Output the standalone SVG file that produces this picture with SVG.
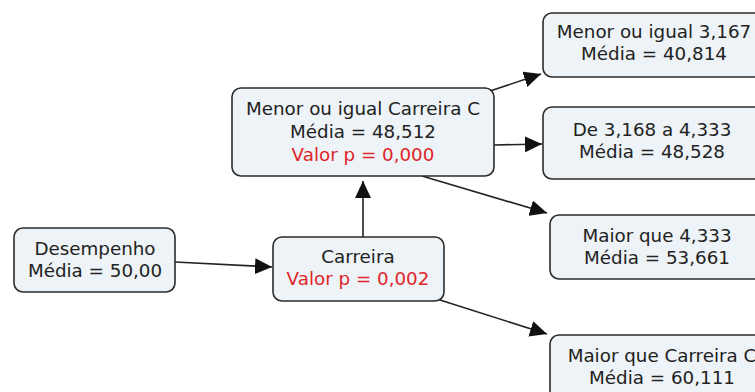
<svg xmlns="http://www.w3.org/2000/svg" width="755" height="392" viewBox="0 0 755 392">
<style>
.box{fill:#edf3f6;stroke:#2b2b2b;stroke-width:1.6}
.t{font-family:"DejaVu Sans",Verdana,sans-serif;font-size:18.3px;fill:#222;text-anchor:middle}
.r{fill:#e0252a}
.c{stroke:#222;stroke-width:1.6;fill:none;marker-end:url(#ah)}
</style>
<defs>
<marker id="ah" markerUnits="userSpaceOnUse" markerWidth="18" markerHeight="16" refX="17" refY="8" orient="auto">
<path d="M0,0 L17,8 L0,16 Z" fill="#111"/>
</marker>
</defs>
<rect width="755" height="392" fill="#fff"/>
<g id="connectors">
<line class="c" x1="175" y1="262" x2="272" y2="267"/>
<line class="c" x1="363" y1="237" x2="363" y2="181"/>
<line class="c" x1="440" y1="300" x2="547" y2="334"/>
<line class="c" x1="422" y1="176" x2="547" y2="213"/>
<line class="c" x1="490" y1="91" x2="541" y2="74"/>
<line class="c" x1="494" y1="145" x2="542" y2="144"/>
</g>
<g id="desempenho">
<rect class="box" x="14" y="228" width="161" height="64" rx="9"/>
<text class="t" x="95" y="255">Desempenho</text>
<text class="t" x="95" y="277">Média = 50,00</text>
</g>
<g id="carreira">
<rect class="box" x="273" y="237" width="171" height="64" rx="9"/>
<text class="t" x="358" y="263">Carreira</text>
<text class="t r" x="358" y="285">Valor p = 0,002</text>
</g>
<g id="menor-carreira">
<rect class="box" x="232" y="88" width="262" height="88" rx="9"/>
<text class="t" x="363" y="115">Menor ou igual Carreira C</text>
<text class="t" x="363" y="138">Média = 48,512</text>
<text class="t r" x="363" y="161">Valor p = 0,000</text>
</g>
<g id="menor-3167">
<rect class="box" x="543" y="13" width="225" height="64" rx="9"/>
<text class="t" x="654" y="38">Menor ou igual 3,167</text>
<text class="t" x="654" y="60">Média = 40,814</text>
</g>
<g id="de-3168">
<rect class="box" x="543" y="107" width="225" height="72" rx="9"/>
<text class="t" x="652" y="136">De 3,168 a 4,333</text>
<text class="t" x="652" y="158">Média = 48,528</text>
</g>
<g id="maior-4333">
<rect class="box" x="550" y="215" width="225" height="64" rx="9"/>
<text class="t" x="657" y="242">Maior que 4,333</text>
<text class="t" x="657" y="264">Média = 53,661</text>
</g>
<g id="maior-carreira">
<rect class="box" x="550" y="335" width="225" height="72" rx="9"/>
<text class="t" x="662" y="362">Maior que Carreira C</text>
<text class="t" x="662" y="384">Média = 60,111</text>
</g>
</svg>
